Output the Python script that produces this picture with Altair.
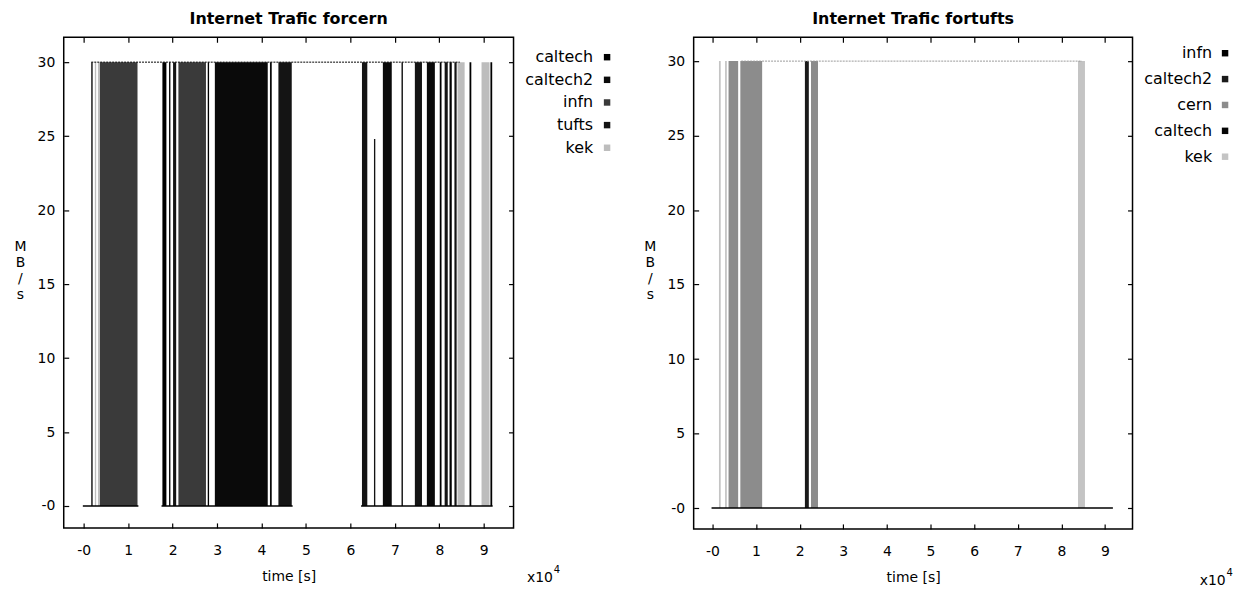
import altair as alt
import pandas as pd

# ---------------- shared axis ticks ----------------
x_ticks = [0, 1, 2, 3, 4, 5, 6, 7, 8, 9]
y_ticks = [0, 5, 10, 15, 20, 25, 30]

# ---------------- left panel: Internet Trafic forcern ----------------
cern_series = ["caltech", "caltech2", "infn", "tufts", "kek"]
cern_colors = ["#000000", "#0a0a0a", "#3a3a3a", "#141414", "#bdbdbd"]
cern_start = [0.17, 0.25, 0.32, 0.36, 1.77, 1.92, 2.01, 2.13, 2.79, 2.95, 4.19, 4.38, 6.26,
              6.53, 6.73, 7.15, 7.45, 7.72, 8.01, 8.12, 8.23, 8.34, 8.41, 8.68, 8.95, 9.15]
cern_end = [0.20, 0.28, 0.35, 1.21, 1.86, 1.95, 2.08, 2.75, 2.82, 4.14, 4.23, 4.68, 6.38,
            6.56, 6.93, 7.18, 7.61, 7.90, 8.05, 8.19, 8.28, 8.39, 8.57, 8.72, 9.13, 9.19]
cern_src = ["caltech", "kek", "kek", "infn", "caltech", "caltech", "tufts", "infn", "caltech",
            "caltech2", "caltech2", "tufts", "tufts", "tufts", "caltech2", "caltech", "tufts",
            "caltech2", "caltech", "tufts", "caltech", "tufts", "kek", "caltech", "kek", "caltech"]
cern_high = [30, 30, 30, 30, 30, 30, 30, 30, 30, 30, 30, 30, 30,
             24.8, 30, 30, 30, 30, 30, 30, 30, 30, 30, 30, 30, 30]
cern_base_start = [-0.02, 1.75, 6.24]
cern_base_end = [1.23, 4.70, 9.20]
cern_top_start = [0.17]
cern_top_end = [8.46]

# ---------------- right panel: Internet Trafic fortufts ----------------
tufts_series = ["infn", "caltech2", "cern", "caltech", "kek"]
tufts_colors = ["#000000", "#1a1a1a", "#8c8c8c", "#050505", "#c4c4c4"]
tufts_start = [0.15, 0.29, 0.37, 0.64, 2.12, 2.26, 8.38]
tufts_end = [0.19, 0.33, 0.59, 1.14, 2.21, 2.42, 8.54]
tufts_src = ["kek", "kek", "cern", "cern", "caltech2", "cern", "kek"]
tufts_high = [30, 30, 30, 30, 30, 30, 30]
tufts_base_start = [-0.02]
tufts_base_end = [9.18]
tufts_top_start = [0.66]
tufts_top_end = [8.47]

FONT = "DejaVu Sans"
ZERO_LABEL = "datum.value == 0 ? '-0' : datum.label"


def panel(title, series, colors, start, end, src, high, bs, be, ts, te, top_color, top_dash,
          W, H, xdom, ydom, leg_text_dx, leg_sym_dx, leg_rows, exp_x, exp_y):
    blocks = pd.DataFrame({"start": start, "end": end, "source": src, "high": high,
                           "low": [0 for _ in start]})
    base = pd.DataFrame({"s": bs, "e": be, "v": [0 for _ in bs]})
    top = pd.DataFrame({"s": ts, "e": te, "v": [30 for _ in ts]})
    leg = pd.DataFrame({"source": series})

    xs = alt.Scale(domain=xdom, nice=False, zero=False)
    ys = alt.Scale(domain=ydom, nice=False, zero=False)
    cs = alt.Scale(domain=series, range=colors)

    ax_x_lab = alt.Axis(orient="bottom", values=x_ticks, labelExpr=ZERO_LABEL, ticks=False,
                        tickSize=0, domain=False, grid=False, labelPadding=16,
                        title="time [s]", titlePadding=12, titleFontWeight="normal")
    ax_y_lab = alt.Axis(orient="left", values=y_ticks, labelExpr=ZERO_LABEL, ticks=False,
                        tickSize=0, domain=False, grid=False, labelPadding=9,
                        title=["M", "B", "/", "s"], titleAngle=0, titleX=-44, titleY=203,
                        titleBaseline="top", titleAlign="center", titleLineHeight=16,
                        titleFontWeight="normal")
    ax_x_b = alt.Axis(orient="top", offset=-H, values=x_ticks, labels=False, ticks=True,
                      tickSize=5, domain=False, grid=False, title="4", titleX=exp_x + 27,
                      titleY=exp_y - 8, titleAlign="left", titleBaseline="middle",
                      titleFontSize=10, titleFontWeight="normal", titlePadding=0)
    ax_x_c = alt.Axis(orient="bottom", offset=-H, values=x_ticks, labels=False, ticks=True,
                      tickSize=5, domain=False, grid=False, title="x10", titleX=exp_x,
                      titleY=H + exp_y, titleAlign="left", titleBaseline="middle",
                      titleFontWeight="normal")
    ax_y_b = alt.Axis(orient="right", offset=-W, values=y_ticks, labels=False, ticks=True,
                      tickSize=5, domain=False, grid=False, title=None)
    ax_y_c = alt.Axis(orient="left", offset=-W, values=y_ticks, labels=False, ticks=True,
                      tickSize=5, domain=False, grid=False, title=None)

    rects = alt.Chart(blocks).mark_rect(strokeWidth=0).encode(
        x=alt.X("start:Q", scale=xs, axis=ax_x_lab),
        x2="end:Q",
        y=alt.Y("high:Q", scale=ys, axis=ax_y_lab),
        y2="low:Q",
        color=alt.Color("source:N", scale=cs, legend=None),
    )
    base_rules = alt.Chart(base).mark_rule(color="black", strokeWidth=1.5).encode(
        x=alt.X("s:Q", scale=xs, axis=ax_x_b),
        x2="e:Q",
        y=alt.Y("v:Q", scale=ys, axis=ax_y_b),
    )
    top_rules = alt.Chart(top).mark_rule(color=top_color, strokeWidth=1.0,
                                         strokeDash=top_dash).encode(
        x=alt.X("s:Q", scale=xs, axis=ax_x_c),
        x2="e:Q",
        y=alt.Y("v:Q", scale=ys, axis=ax_y_c),
    )
    leg_y = alt.Y("source:N", sort=series,
                  scale=alt.Scale(domain=series, range=leg_rows, padding=0), axis=None)
    leg_text = alt.Chart(leg).mark_text(align="right", baseline="middle", font=FONT,
                                        fontSize=16, color="black").encode(
        x=alt.value(W + leg_text_dx), y=leg_y, text="source:N")
    leg_sym = alt.Chart(leg).mark_square(size=42, opacity=1).encode(
        x=alt.value(W + leg_sym_dx), y=leg_y,
        color=alt.Color("source:N", scale=cs, legend=None))

    return alt.layer(rects, base_rules, top_rules, leg_text, leg_sym).properties(
        width=W, height=H,
        title=alt.TitleParams(title, font=FONT, fontSize=16, fontWeight="bold",
                              anchor="middle", offset=10, color="black"),
    ).resolve_scale(y="independent").resolve_axis(x="independent", y="independent")


left = panel("Internet Trafic forcern", cern_series, cern_colors, cern_start, cern_end,
             cern_src, cern_high, cern_base_start, cern_base_end, cern_top_start,
             cern_top_end, "#000000", [2, 1], 452, 493, [-0.45, 9.67], [-1.48, 31.68],
             80, 94, [20, 111], 465, 50)
right = panel("Internet Trafic fortufts", tufts_series, tufts_colors, tufts_start, tufts_end,
              tufts_src, tufts_high, tufts_base_start, tufts_base_end, tufts_top_start,
              tufts_top_end, "#9a9a9a", [2, 1], 441, 494, [-0.43, 9.63], [-1.40, 31.60],
              80, 93, [16, 120], 508, 52)

chart = alt.hconcat(left, right, spacing=32).properties(
    padding={"top": 0, "left": 5, "right": 5, "bottom": 5}
).resolve_scale(
    color="independent"
).configure_view(
    stroke="black", strokeWidth=1.5
).configure_axis(
    labelFont=FONT, labelFontSize=14, labelColor="black", titleFont=FONT, titleFontSize=14,
    titleColor="black", tickColor="black", tickWidth=1.2
)

chart.save("out.html", embed_options={"renderer": "svg", "actions": False})
